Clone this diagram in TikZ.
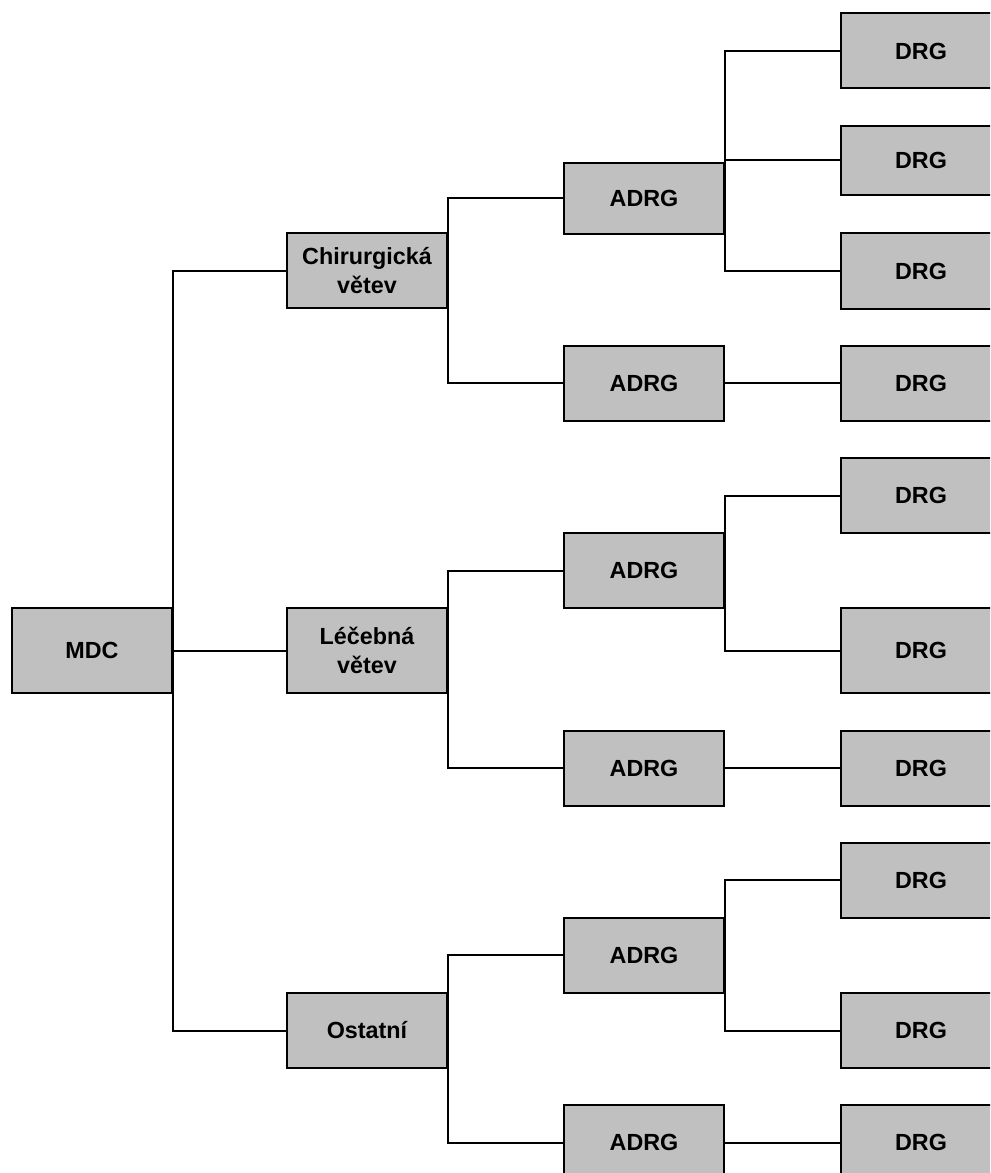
\documentclass[tikz,border=0pt]{standalone}
\usepackage{fontspec}
\setmainfont{Liberation Sans}
\definecolor{boxgray}{HTML}{C0C0C0}
\begin{document}
\begin{tikzpicture}[x=0.75pt,y=-0.75pt,
  box/.style={draw=black, fill=boxgray, line width=1.5pt, minimum width=120pt,
    minimum height=56.25pt, inner sep=0pt, align=center,
    font=\fontsize{17.5}{21.5}\selectfont\bfseries},
  tallbox/.style={box, minimum height=63.75pt},
  link/.style={draw=black, line width=1.5pt}]
\useasboundingbox (0,0) rectangle (990,1173);
\clip (0,0) rectangle (990,1173);
% level 0
\node[tallbox] (mdc) at (92,650.5) {MDC};
% level 1
\node[box] (chir) at (367,270.5) {Chirurgická\\větev};
\node[tallbox] (lec) at (367,650.5) {Léčebná\\větev};
\node[box] (ost) at (367,1030.5) {Ostatní};
% ADRG
\node[box, minimum height=53.25pt] (a1) at (644,198.5) {ADRG};
\node[box] (a2) at (644,383) {ADRG};
\node[box] (a3) at (644,570.5) {ADRG};
\node[box] (a4) at (644,768) {ADRG};
\node[box] (a5) at (644,955) {ADRG};
\node[box] (a6) at (644,1142.5) {ADRG};
% DRG
\node[box] (d1) at (921,51) {DRG};
\node[box, minimum height=52pt] (d2) at (921,160.5) {DRG};
\node[box] (d3) at (921,271) {DRG};
\node[box] (d4) at (921,383) {DRG};
\node[box] (d5) at (921,495.5) {DRG};
\node[tallbox] (d6) at (921,650.5) {DRG};
\node[box] (d7) at (921,768) {DRG};
\node[box] (d8) at (921,880) {DRG};
\node[box] (d9) at (921,1030.5) {DRG};
\node[box] (d10) at (921,1142.5) {DRG};
% connectors level 0 -> 1
\draw[link] (chir.west) -- (chir.west -| mdc.east) -- (ost.west -| mdc.east) -- (ost.west);
\draw[link] (mdc.east) -- (lec.west);
% level 1 -> ADRG
\draw[link] (a1.west) -- (a1.west -| chir.east) -- (a2.west -| chir.east) -- (a2.west);
\draw[link] (a3.west) -- (a3.west -| lec.east) -- (a4.west -| lec.east) -- (a4.west);
\draw[link] (a5.west) -- (a5.west -| ost.east) -- (a6.west -| ost.east) -- (a6.west);
% ADRG -> DRG
\draw[link] (d1.west) -- (d1.west -| a1.east) -- (d3.west -| a1.east) -- (d3.west);
\draw[link] (d2.west -| a1.east) -- (d2.west);
\draw[link] (a2.east) -- (d4.west);
\draw[link] (d5.west) -- (d5.west -| a3.east) -- (d6.west -| a3.east) -- (d6.west);
\draw[link] (a4.east) -- (d7.west);
\draw[link] (d8.west) -- (d8.west -| a5.east) -- (d9.west -| a5.east) -- (d9.west);
\draw[link] (a6.east) -- (d10.west);
\end{tikzpicture}
\end{document}
